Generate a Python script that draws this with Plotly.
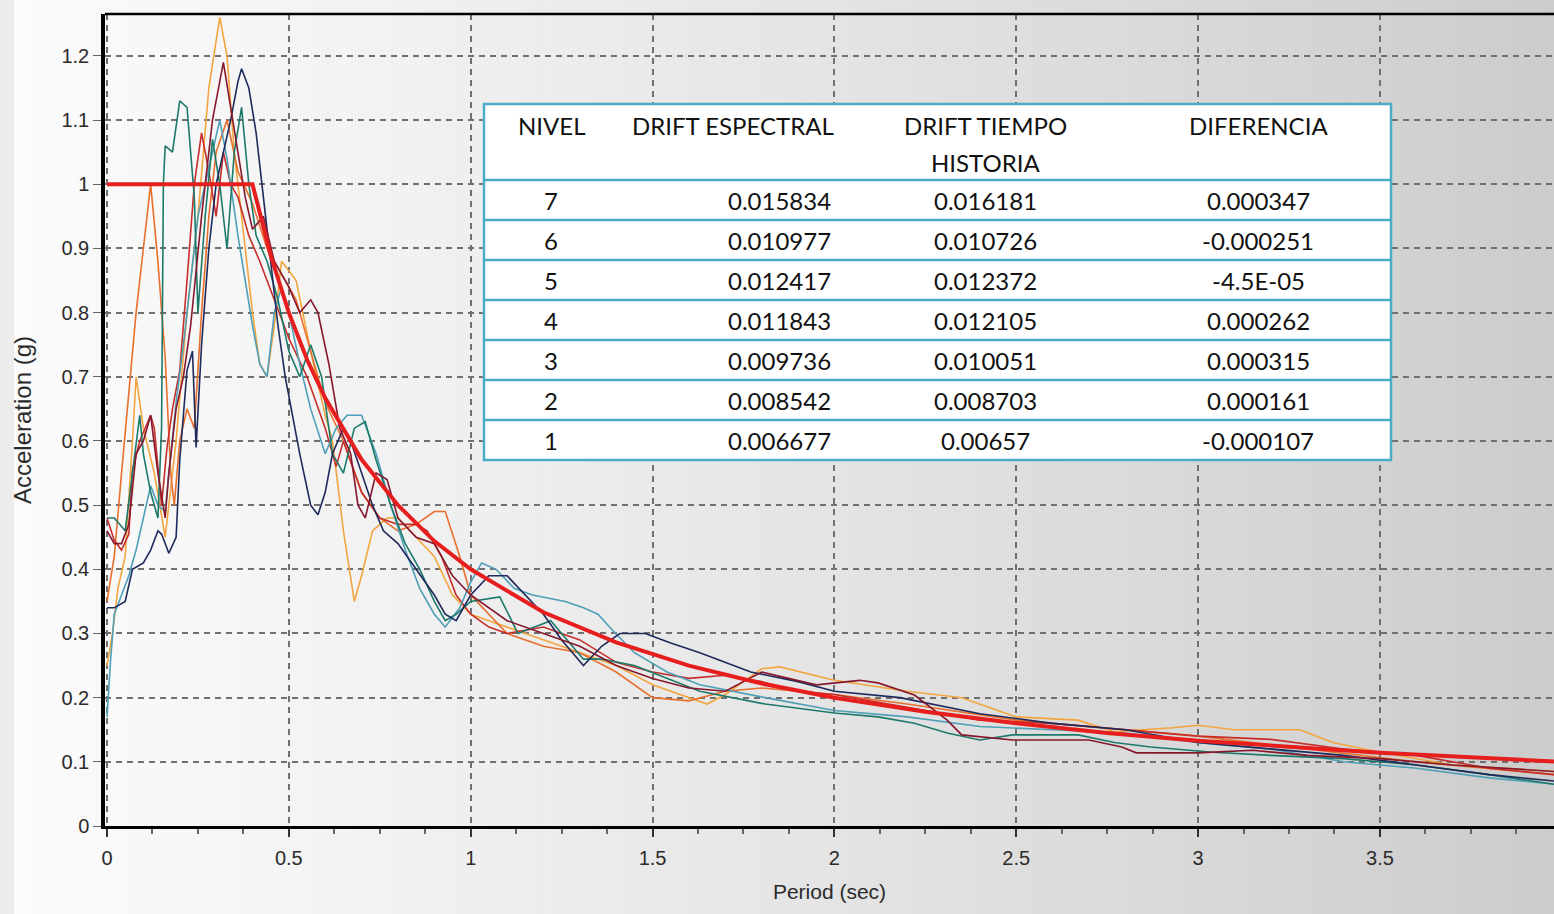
import plotly.graph_objects as go

# ---------------- data ----------------
target_T = [0.0, 0.40, 0.45, 0.50, 0.55, 0.60, 0.70, 0.80, 0.90, 1.00, 1.20, 1.40, 1.60, 1.80, 2.00, 2.25, 2.50, 2.75, 3.00, 3.25, 3.50, 3.75, 4.00]
target_A = [1.0, 1.0, 0.889, 0.80, 0.727, 0.667, 0.571, 0.50, 0.444, 0.40, 0.333, 0.286, 0.25, 0.222, 0.20, 0.178, 0.16, 0.145, 0.133, 0.123, 0.114, 0.107, 0.10]

gold_T = [0, 0.015, 0.03, 0.05, 0.07, 0.08, 0.10, 0.13, 0.16, 0.19, 0.22, 0.25, 0.28, 0.31, 0.33, 0.35, 0.38, 0.40, 0.42, 0.44, 0.46, 0.48, 0.52, 0.56, 0.60, 0.62, 0.65, 0.68, 0.70, 0.73, 0.77, 0.80, 0.85, 0.90, 0.95, 1.0, 1.05, 1.1, 1.2, 1.3, 1.4, 1.5, 1.6, 1.65, 1.7, 1.8, 1.85, 2.0, 2.2, 2.35, 2.5, 2.67, 2.77, 2.93, 3.0, 3.1, 3.28, 3.37, 3.5, 3.7, 3.98]
gold_A = [0.25, 0.30, 0.37, 0.42, 0.60, 0.70, 0.62, 0.55, 0.45, 0.60, 0.80, 0.95, 1.15, 1.26, 1.20, 1.05, 0.90, 0.80, 0.72, 0.70, 0.78, 0.88, 0.85, 0.74, 0.64, 0.60, 0.46, 0.35, 0.39, 0.46, 0.48, 0.48, 0.45, 0.42, 0.36, 0.33, 0.32, 0.31, 0.29, 0.27, 0.25, 0.22, 0.20, 0.19, 0.205, 0.245, 0.248, 0.227, 0.21, 0.20, 0.17, 0.165, 0.147, 0.153, 0.157, 0.15, 0.15, 0.13, 0.115, 0.095, 0.085]

orange_T = [0, 0.02, 0.04, 0.06, 0.08, 0.10, 0.12, 0.14, 0.16, 0.175, 0.185, 0.20, 0.22, 0.24, 0.26, 0.28, 0.30, 0.33, 0.36, 0.40, 0.44, 0.48, 0.52, 0.56, 0.60, 0.65, 0.70, 0.75, 0.80, 0.85, 0.90, 0.93, 0.97, 1.0, 1.05, 1.1, 1.2, 1.3, 1.4, 1.5, 1.6, 1.7, 1.8, 2.0, 2.2, 2.5, 2.8, 3.0, 3.3, 3.6, 3.98]
orange_A = [0.35, 0.42, 0.55, 0.68, 0.80, 0.90, 1.00, 0.88, 0.73, 0.55, 0.50, 0.60, 0.65, 0.62, 0.80, 0.95, 1.05, 1.10, 1.02, 0.97, 0.90, 0.86, 0.82, 0.74, 0.66, 0.60, 0.52, 0.48, 0.46, 0.47, 0.49, 0.49, 0.42, 0.36, 0.33, 0.30, 0.28, 0.27, 0.24, 0.20, 0.195, 0.21, 0.215, 0.205, 0.19, 0.165, 0.15, 0.14, 0.12, 0.10, 0.08]

maroon_T = [0, 0.02, 0.04, 0.06, 0.08, 0.10, 0.12, 0.14, 0.16, 0.17, 0.19, 0.21, 0.23, 0.26, 0.29, 0.32, 0.34, 0.36, 0.38, 0.40, 0.43, 0.46, 0.50, 0.53, 0.56, 0.58, 0.61, 0.64, 0.67, 0.69, 0.71, 0.74, 0.77, 0.80, 0.85, 0.90, 0.95, 1.0, 1.1, 1.2, 1.3, 1.4, 1.5, 1.6, 1.7, 1.8, 1.95, 2.07, 2.12, 2.22, 2.31, 2.35, 2.49, 2.7, 2.79, 2.83, 3.0, 3.15, 3.3, 3.5, 3.7, 3.98]
maroon_A = [0.46, 0.44, 0.44, 0.47, 0.58, 0.60, 0.64, 0.55, 0.48, 0.55, 0.65, 0.70, 0.78, 0.95, 1.10, 1.19, 1.12, 1.05, 0.98, 0.93, 0.95, 0.88, 0.84, 0.80, 0.82, 0.80, 0.72, 0.62, 0.58, 0.50, 0.48, 0.55, 0.54, 0.48, 0.45, 0.44, 0.39, 0.36, 0.32, 0.30, 0.28, 0.25, 0.23, 0.215, 0.21, 0.24, 0.22, 0.227, 0.223, 0.204, 0.165, 0.142, 0.134, 0.134, 0.123, 0.114, 0.114, 0.118, 0.11, 0.105, 0.095, 0.085]

navy_T = [0, 0.02, 0.05, 0.07, 0.10, 0.12, 0.14, 0.15, 0.17, 0.19, 0.20, 0.22, 0.235, 0.245, 0.26, 0.28, 0.30, 0.32, 0.34, 0.36, 0.37, 0.39, 0.41, 0.43, 0.45, 0.47, 0.49, 0.51, 0.53, 0.56, 0.58, 0.60, 0.62, 0.65, 0.67, 0.70, 0.73, 0.76, 0.80, 0.85, 0.90, 0.93, 0.96, 1.0, 1.05, 1.1, 1.15, 1.2, 1.25, 1.31, 1.36, 1.41, 1.48, 1.55, 1.63, 1.77, 1.9, 2.0, 2.18, 2.4, 2.6, 2.8, 3.0, 3.2, 3.4, 3.6, 3.8, 3.98]
navy_A = [0.34, 0.34, 0.35, 0.40, 0.41, 0.43, 0.46, 0.455, 0.425, 0.45, 0.57, 0.71, 0.74, 0.59, 0.75, 0.90, 1.00, 1.05, 1.10, 1.16, 1.18, 1.15, 1.08, 0.98, 0.88, 0.78, 0.70, 0.64, 0.58, 0.50, 0.485, 0.52, 0.58, 0.62, 0.60, 0.55, 0.50, 0.46, 0.44, 0.40, 0.36, 0.33, 0.32, 0.36, 0.39, 0.39, 0.36, 0.33, 0.29, 0.25, 0.28, 0.30, 0.30, 0.285, 0.27, 0.24, 0.225, 0.21, 0.20, 0.175, 0.16, 0.15, 0.13, 0.12, 0.11, 0.095, 0.08, 0.07]

teal_T = [0, 0.02, 0.05, 0.07, 0.09, 0.10, 0.12, 0.14, 0.15, 0.155, 0.16, 0.18, 0.20, 0.22, 0.24, 0.25, 0.27, 0.29, 0.31, 0.33, 0.35, 0.37, 0.39, 0.41, 0.44, 0.47, 0.50, 0.53, 0.56, 0.59, 0.62, 0.65, 0.68, 0.71, 0.74, 0.78, 0.82, 0.86, 0.90, 0.93, 0.96, 1.0, 1.08, 1.13, 1.22, 1.31, 1.36, 1.45, 1.54, 1.63, 1.81, 2.0, 2.12, 2.22, 2.31, 2.4, 2.49, 2.67, 2.77, 2.87, 3.04, 3.2, 3.4, 3.6, 3.8, 3.98]
teal_A = [0.48, 0.48, 0.46, 0.55, 0.64, 0.58, 0.52, 0.48, 0.62, 1.00, 1.06, 1.05, 1.13, 1.12, 0.98, 0.80, 0.95, 1.07, 1.00, 0.90, 1.05, 1.12, 1.00, 0.92, 0.88, 0.82, 0.74, 0.70, 0.75, 0.70, 0.58, 0.55, 0.62, 0.63, 0.57, 0.50, 0.44, 0.40, 0.35, 0.32, 0.33, 0.35, 0.357, 0.30, 0.32, 0.26, 0.26, 0.25, 0.23, 0.21, 0.19, 0.176, 0.17, 0.16, 0.145, 0.134, 0.142, 0.142, 0.13, 0.123, 0.115, 0.11, 0.105, 0.095, 0.08, 0.065]

cyan_T = [0, 0.01, 0.02, 0.04, 0.06, 0.08, 0.10, 0.12, 0.14, 0.16, 0.17, 0.19, 0.21, 0.23, 0.25, 0.27, 0.29, 0.31, 0.33, 0.36, 0.38, 0.40, 0.42, 0.44, 0.46, 0.48, 0.50, 0.53, 0.56, 0.60, 0.63, 0.66, 0.70, 0.74, 0.78, 0.82, 0.86, 0.90, 0.93, 0.97, 1.0, 1.03, 1.07, 1.12, 1.17, 1.26, 1.31, 1.35, 1.39, 1.45, 1.54, 1.63, 1.81, 2.0, 2.2, 2.4, 2.6, 2.8, 3.0, 3.2, 3.4, 3.6, 3.8, 3.98]
cyan_A = [0.17, 0.26, 0.33, 0.36, 0.39, 0.43, 0.48, 0.53, 0.50, 0.49, 0.55, 0.66, 0.75, 0.85, 0.95, 1.00, 1.05, 1.10, 1.04, 0.92, 0.85, 0.78, 0.72, 0.70, 0.80, 0.84, 0.80, 0.72, 0.65, 0.58, 0.62, 0.64, 0.64, 0.58, 0.50, 0.43, 0.37, 0.33, 0.31, 0.34, 0.38, 0.41, 0.40, 0.37, 0.36, 0.35, 0.34, 0.33, 0.305, 0.27, 0.24, 0.22, 0.20, 0.18, 0.17, 0.155, 0.15, 0.145, 0.13, 0.12, 0.10, 0.09, 0.075, 0.065]

red_T = [0, 0.02, 0.04, 0.06, 0.07, 0.09, 0.12, 0.13, 0.15, 0.165, 0.18, 0.20, 0.22, 0.24, 0.26, 0.28, 0.30, 0.32, 0.34, 0.36, 0.39, 0.42, 0.46, 0.50, 0.55, 0.60, 0.63, 0.65, 0.70, 0.75, 0.80, 0.85, 0.88, 0.92, 0.96, 1.0, 1.05, 1.1, 1.2, 1.3, 1.4, 1.5, 1.6, 1.7, 1.8, 1.9, 2.0, 2.2, 2.4, 2.6, 2.8, 3.0, 3.2, 3.4, 3.6, 3.8, 3.98]
red_A = [0.48, 0.445, 0.43, 0.455, 0.555, 0.60, 0.64, 0.62, 0.50, 0.59, 0.65, 0.71, 0.85, 1.00, 1.08, 1.02, 0.95, 1.05, 1.00, 0.98, 0.92, 0.88, 0.82, 0.76, 0.70, 0.62, 0.56, 0.60, 0.52, 0.48, 0.47, 0.47, 0.46, 0.42, 0.36, 0.33, 0.31, 0.30, 0.31, 0.29, 0.255, 0.24, 0.23, 0.235, 0.225, 0.21, 0.205, 0.185, 0.165, 0.16, 0.15, 0.14, 0.135, 0.12, 0.11, 0.09, 0.08]

x_ticks = [0, 0.5, 1, 1.5, 2, 2.5, 3, 3.5]

table_header = ["NIVEL", "DRIFT ESPECTRAL", "DRIFT TIEMPO", "DIFERENCIA"]
table_header_2 = ["", "", "HISTORIA", ""]
nivel = ["7", "6", "5", "4", "3", "2", "1"]
drift_espectral = ["0.015834", "0.010977", "0.012417", "0.011843", "0.009736", "0.008542", "0.006677"]
drift_tiempo_historia = ["0.016181", "0.010726", "0.012372", "0.012105", "0.010051", "0.008703", "0.00657"]
diferencia = ["0.000347", "-0.000251", "-4.5E-05", "0.000262", "0.000315", "0.000161", "-0.000107"]

# ---------------- layout helpers ----------------
W, H = 1554, 914
PL, PR, PT, PB = 105, 1554, 14, 826
def fx(px):
    return (px - PL) / (PR - PL)
def fy(py):
    return (PB - py) / (PB - PT)

fig = go.Figure()

series = [
    (gold_T, gold_A, "#F3A53F"),
    (orange_T, orange_A, "#E8702E"),
    (red_T, red_A, "#C62E2A"),
    (cyan_T, cyan_A, "#4E9FB8"),
    (teal_T, teal_A, "#1D7A6A"),
    (navy_T, navy_A, "#1F2A5C"),
    (maroon_T, maroon_A, "#86182E"),
]
for t, a, c in series:
    fig.add_trace(go.Scatter(x=t, y=a, mode="lines", line=dict(color=c, width=1.6),
                             showlegend=False, hoverinfo="skip"))
fig.add_trace(go.Scatter(x=target_T, y=target_A, mode="lines",
                         line=dict(color="#E61E1E", width=4), showlegend=False, hoverinfo="skip"))

shapes = []
# background gradient (whole page)
N = 140
for i in range(N):
    p0 = W * i / N
    p1 = W * (i + 1) / N + 0.6
    pm = (p0 + p1) / 2
    g = int(round(251 - 47 * (pm / W) ** 1.15))
    shapes.append(dict(type="rect", xref="paper", yref="paper", layer="below",
                       x0=fx(p0), x1=fx(p1), y0=fy(H), y1=fy(0),
                       fillcolor=f"rgb({g},{g},{g})", line=dict(width=0)))
shapes.append(dict(type="rect", xref="paper", yref="paper", layer="below",
                   x0=fx(0), x1=fx(14), y0=fy(H), y1=fy(0),
                   fillcolor="rgb(236,236,236)", line=dict(width=0)))
# top border of plot
shapes.append(dict(type="line", xref="paper", yref="paper", x0=0, x1=1, y0=1, y1=1,
                   line=dict(color="black", width=2.5)))

# table
TL, TR, TT = 484, 1391, 104
HB = 180
ROW = 40
TB = HB + ROW * len(nivel)
border = "#4BACC6"
shapes.append(dict(type="rect", xref="paper", yref="paper", layer="above",
                   x0=fx(TL), x1=fx(TR), y0=fy(TB), y1=fy(TT),
                   fillcolor="white", line=dict(color=border, width=2.5)))
for i in range(len(nivel)):
    yy = HB + ROW * i
    shapes.append(dict(type="line", xref="paper", yref="paper", layer="above",
                       x0=fx(TL), x1=fx(TR), y0=fy(yy), y1=fy(yy),
                       line=dict(color=border, width=2.5)))

annotations = []
tfont = dict(family="Lato, Open Sans, sans-serif", size=24, color="#111111")
col_x = [551, 733, 985, 1258]
for j, h in enumerate(table_header):
    annotations.append(dict(xref="paper", yref="paper", x=fx(col_x[j]), y=fy(125),
                            text=h, showarrow=False, xanchor="center", yanchor="middle", font=tfont))
for j, h in enumerate(table_header_2):
    if h:
        annotations.append(dict(xref="paper", yref="paper", x=fx(col_x[j]), y=fy(162),
                                text=h, showarrow=False, xanchor="center", yanchor="middle", font=tfont))
for i in range(len(nivel)):
    yc = fy(HB + ROW * i + 20)
    annotations.append(dict(xref="paper", yref="paper", x=fx(551), y=yc, text=nivel[i],
                            showarrow=False, xanchor="center", yanchor="middle", font=tfont))
    annotations.append(dict(xref="paper", yref="paper", x=fx(833), y=yc, text=drift_espectral[i],
                            showarrow=False, xanchor="right", yanchor="middle", font=tfont))
    annotations.append(dict(xref="paper", yref="paper", x=fx(985), y=yc, text=drift_tiempo_historia[i],
                            showarrow=False, xanchor="center", yanchor="middle", font=tfont))
    annotations.append(dict(xref="paper", yref="paper", x=fx(1258), y=yc, text=diferencia[i],
                            showarrow=False, xanchor="center", yanchor="middle", font=tfont))

xscale = 363.7
yscale = 641.7
x0 = -(107 - PL) / xscale
tickfont = dict(family="Liberation Sans, Arial, sans-serif", size=20, color="#2b2b2b")
xtitlefont = dict(family="Liberation Sans, Arial, sans-serif", size=21, color="#2b2b2b")
ytitlefont = dict(family="Liberation Sans, Arial, sans-serif", size=24, color="#2b2b2b")

fig.update_layout(
    width=W, height=H,
    margin=dict(l=PL, r=W - PR, t=PT, b=H - PB, pad=0),
    paper_bgcolor="white",
    plot_bgcolor="rgba(0,0,0,0)",
    shapes=shapes,
    annotations=annotations,
    xaxis=dict(range=[x0, x0 + (PR - PL) / xscale], tickvals=x_ticks,
               showgrid=True, gridcolor="#707070", gridwidth=1.6, griddash="6px,5px",
               zeroline=False, showline=True, linecolor="black", linewidth=3,
               ticks="outside", ticklen=8, tickcolor="#333", tickwidth=1.5,
               ticklabelstandoff=4,
               minor=dict(dtick=0.125, tick0=0, ticks="outside", ticklen=5, tickcolor="#666", showgrid=False),
               tickfont=tickfont,
               title=dict(text="Period (sec)", font=xtitlefont, standoff=17)),
    yaxis=dict(range=[0, (PB - PT) / yscale], dtick=0.1, tick0=0,
               showgrid=True, gridcolor="#707070", gridwidth=1.6, griddash="6px,5px",
               zeroline=False, showline=True, linecolor="black", linewidth=3.5,
               ticks="outside", ticklen=8, tickcolor="#666", tickwidth=1.2,
               tickfont=tickfont,
               title=dict(text="Acceleration (g)", font=ytitlefont, standoff=24)),
)

fig.write_html("out.html")
